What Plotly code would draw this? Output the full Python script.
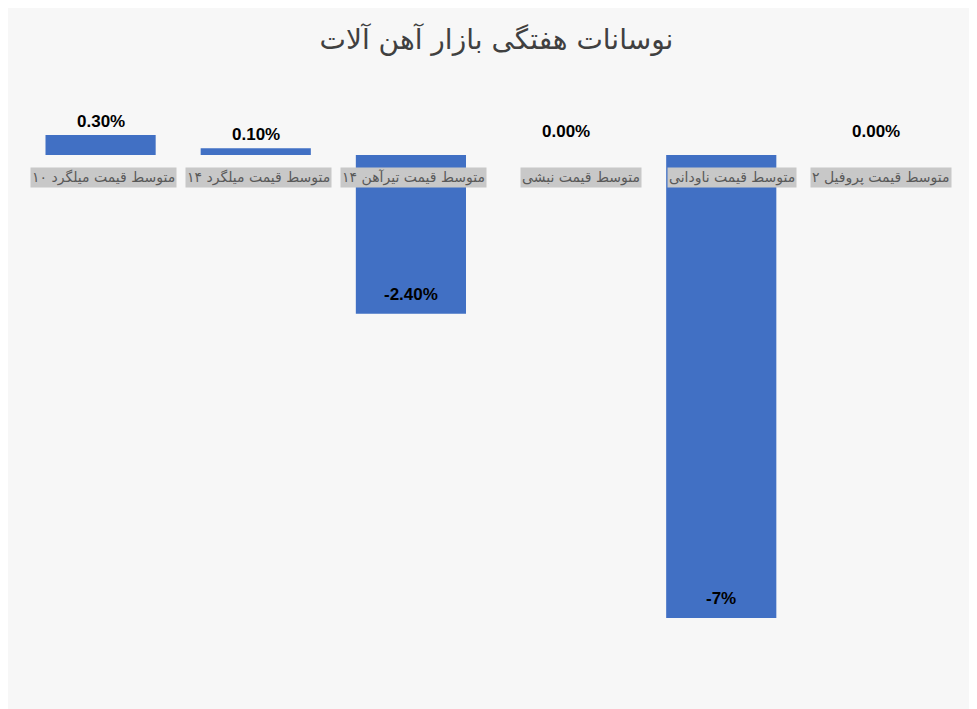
import plotly.graph_objects as go

categories = ["متوسط قیمت میلگرد ۱۰", "متوسط قیمت میلگرد ۱۴", "متوسط قیمت تیرآهن ۱۴",
              "متوسط قیمت نبشی", "متوسط قیمت ناودانی", "متوسط قیمت پروفیل ۲"]
values = [0.30, 0.10, -2.40, 0.00, -7.00, 0.00]
value_labels = ["0.30%", "0.10%", "-2.40%", "0.00%", "-7%", "0.00%"]

x = list(range(len(categories)))
fig = go.Figure(go.Bar(x=x, y=values, marker=dict(color="#4170c4", line=dict(width=0)),
                       width=0.71, hoverinfo="skip"))

ann = []
for i, (c, v, t) in enumerate(zip(categories, values, value_labels)):
    ann.append(dict(x=i + 0.49, y=0, xref="x", yref="y", text=c, showarrow=False,
                    xanchor="right", yanchor="top", yshift=-12,
                    font=dict(family="DejaVu Sans", size=14, color="#595959"),
                    bgcolor="#c8c8c8", borderpad=1))
    ann.append(dict(x=i, y=max(v, 0) if v >= 0 else v, text=f"<b>{t}</b>", showarrow=False,
                    yanchor="bottom", yshift=(12 if v == 0 else 2) if v >= 0 else 8,
                    font=dict(family="Liberation Sans", size=17, color="#000")))

fig.update_layout(
    width=977, height=709,
    margin=dict(l=15, r=31, t=92, b=68),
    paper_bgcolor="#f7f7f7", plot_bgcolor="rgba(0,0,0,0)",
    title=dict(text="نوسانات هفتگی بازار آهن آلات", x=0.5, y=0.97, xanchor="center",
               font=dict(family="DejaVu Sans", size=28, color="#404040")),
    xaxis=dict(range=[-0.5, 5.5], visible=False),
    yaxis=dict(range=[-7.47, 0.83], visible=False),
    showlegend=False, annotations=ann,
)
fig.write_html("out.html")
